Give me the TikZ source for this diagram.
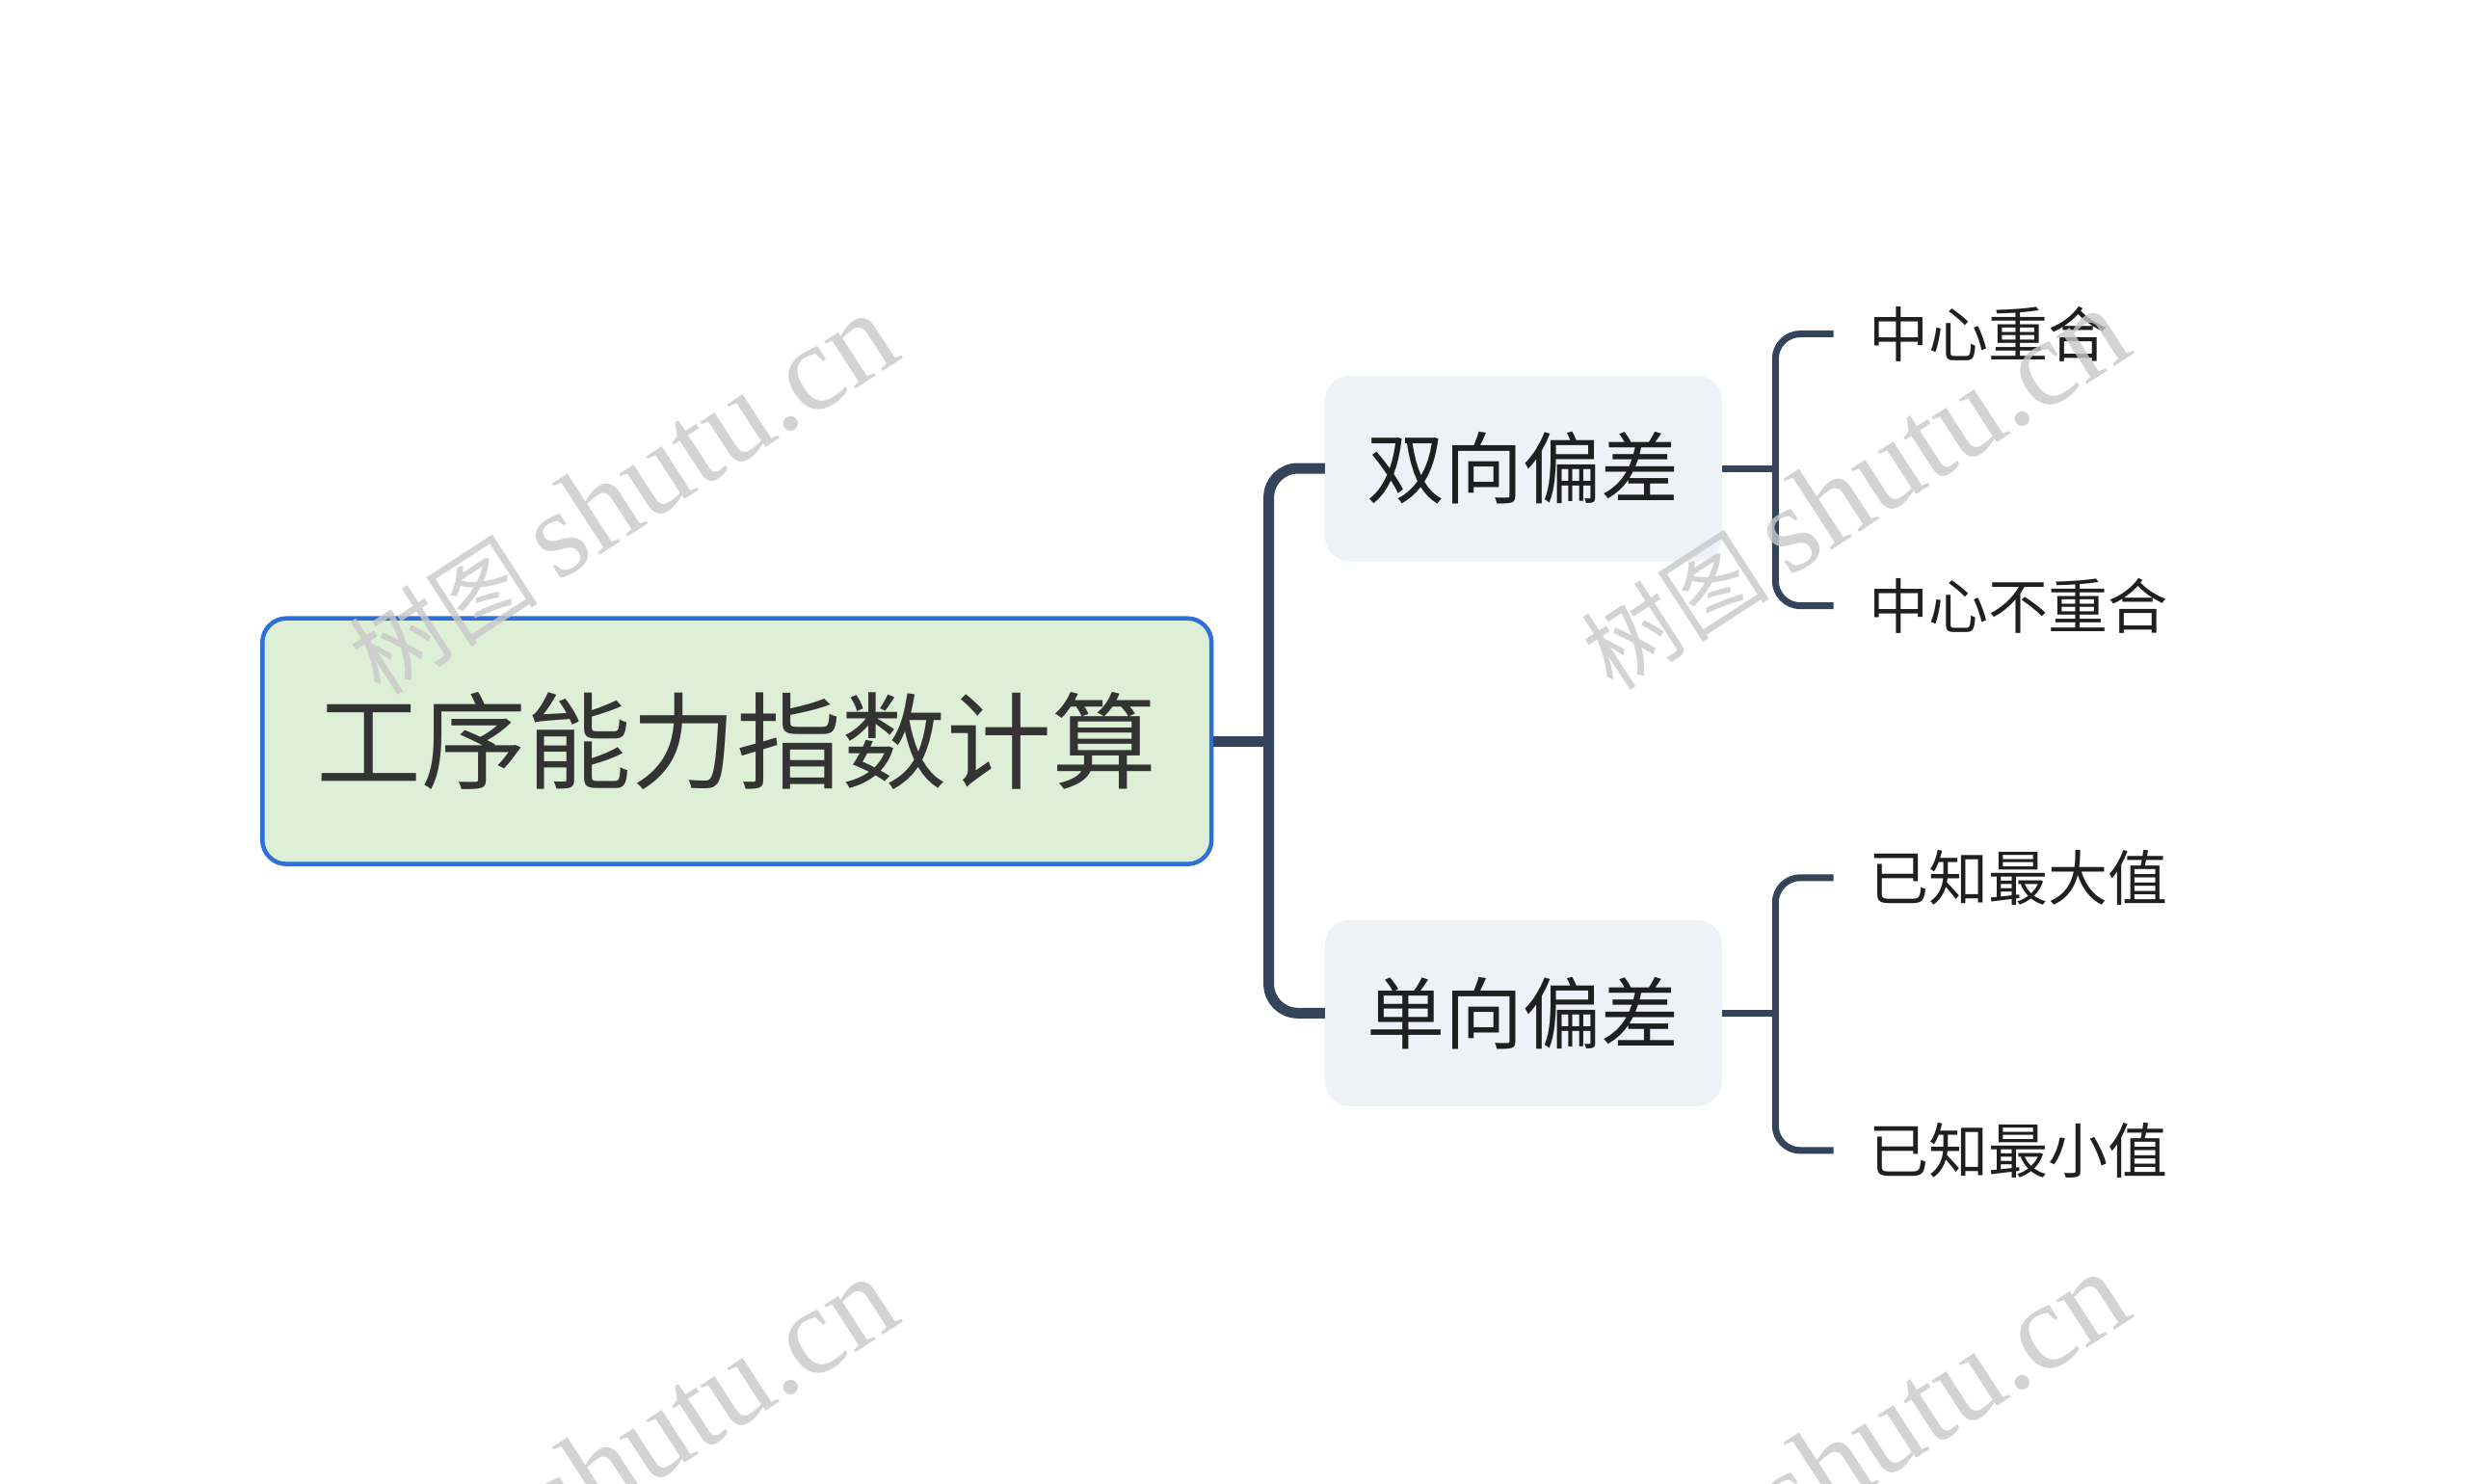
\documentclass[tikz,border=0pt]{standalone}
\usepackage{fontspec}
\setmainfont{Liberation Serif}
\newfontfamily\cjk{Noto Sans CJK SC}
\usetikzlibrary{positioning}
\definecolor{linecol}{HTML}{34445A}
\definecolor{rootfill}{HTML}{DDEFD6}
\definecolor{rootdraw}{HTML}{2F6FD8}
\definecolor{kidfill}{HTML}{EEF1F5}
\definecolor{wm}{HTML}{C8C8C8}
\tikzset{
  rootbox/.style={draw=rootdraw, line width=4.5pt, fill=rootfill, rounded corners=25pt,
    minimum width=985pt, minimum height=255pt, inner sep=0pt,
    font=\cjk\fontsize{109}{120}\selectfont, text=black!80},
  kidbox/.style={fill=kidfill, rounded corners=26pt, minimum width=412pt, minimum height=193pt,
    inner sep=0pt, font=\cjk\fontsize{81}{90}\selectfont, text=black!88},
  leafbox/.style={anchor=west, inner xsep=37pt, inner ysep=0pt,
    font=\cjk\fontsize{62}{70}\selectfont, text=black!88},
  mainline/.style={draw=linecol, line width=11pt, rounded corners=30pt},
  subline/.style={draw=linecol, line width=7pt, rounded corners=26pt},
  watermark/.style={rotate=33, text=wm, opacity=0.8, font=\fontsize{128}{130}\selectfont}
}
\newcommand{\wmtext}{{\cjk\fontsize{98}{100}\selectfont 树图}\,shutu.cn}
\begin{document}
\begin{tikzpicture}[x=0.99pt,y=-0.99pt]
\useasboundingbox (0,0) rectangle (2586,1555);
\fill[white] (0,0) rectangle (2586,1555);
\node[rootbox] (root) at (772.5,777) {工序能力指数计算};
\node[kidbox] (k1) at (1597,491) {双向偏差};
\node[kidbox] (k2) at (1597,1062) {单向偏差};
\node[leafbox] (l1) at (1922,350) {中心重合};
\node[leafbox] (l2) at (1922,635) {中心不重合};
\node[leafbox] (l3) at (1922,920) {已知最大值};
\node[leafbox] (l4) at (1922,1206) {已知最小值};
\coordinate (s0) at (1330,777);
\coordinate (s1) at (1861,491);
\coordinate (s2) at (1861,1062);
\draw[mainline] (k1.west) -| (s0) |- (k2.west);
\draw[mainline] (root.east) -- (s0);
\draw[subline] (l1.west) -| (s1) |- (l2.west);
\draw[subline] (k1.east) -- (s1);
\draw[subline] (l3.west) -| (s2) |- (l4.west);
\draw[subline] (k2.east) -- (s2);
\node[watermark] (w1) at (652,518) {\wmtext};
\node[watermark] (w2) at (1943,513) {\wmtext};
\node[watermark] (w3) at (652,1528) {\wmtext};
\node[watermark] (w4) at (1943,1523) {\wmtext};
\end{tikzpicture}
\end{document}
